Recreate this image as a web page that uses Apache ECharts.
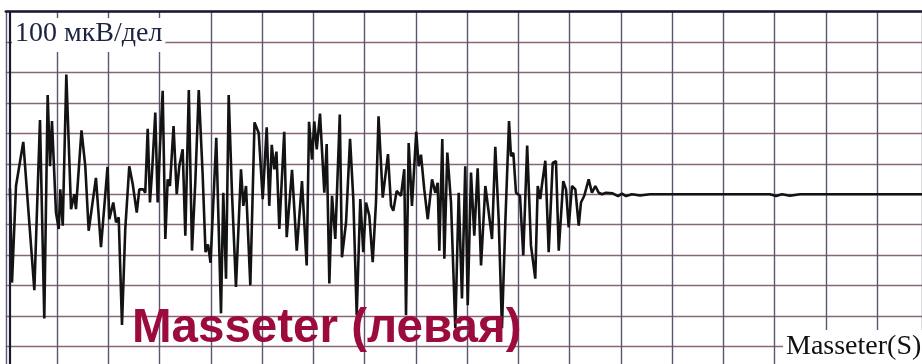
<!DOCTYPE html>
<html>
<head>
<meta charset="utf-8">
<script src="https://cdn.jsdelivr.net/npm/echarts@6/dist/echarts.min.js"></script>
<style>
  html, body { margin: 0; padding: 0; background: #ffffff; overflow: hidden; }
  /* the recording sheet runs a little past the bottom edge of the view */
  #chart { width: 922px; height: 377px; }
</style>
</head>
<body>
<div id="chart"></div>
<script>
// Surface EMG, left masseter. Time in ms (50 ms per grid division), amplitude in µV (100 µV per division).
const scaleLabel = '100 мкВ/дел';
const muscleTitle = 'Masseter (левая)';
const channelLabel = 'Masseter(S)';

const sampleTimes = [
  4.1, 6.1, 10.0, 17.1, 27.9, 33.4, 37.6, 40.9, 43.2, 45.1,
  49.0, 51.7, 53.2, 55.6, 59.1, 63.7, 66.9, 68.5, 73.9, 77.6,
  80.9, 88.0, 92.9, 99.3, 101.0, 104.9, 107.6, 110.2, 113.4, 116.6,
  120.5, 123.9, 127.8, 130.3, 134.2, 136.1, 138.5, 140.7, 142.7, 145.9,
  148.2, 150.5, 153.1, 155.7, 158.0, 160.2, 163.7, 166.8, 169.3, 172.6,
  175.2, 178.6, 181.7, 184.9, 188.3, 192.1, 194.9, 197.3, 199.8, 205.4,
  210.0, 212.2, 214.9, 217.5, 220.7, 224.6, 229.5, 231.8, 234.4, 238.6,
  242.7, 246.8, 250.7, 254.6, 257.1, 259.5, 262.0, 264.1, 266.9, 271.7,
  274.1, 279.3, 283.9, 289.0, 293.6, 295.9, 298.8, 301.0, 303.4, 306.6,
  309.2, 310.8, 313.1, 315.7, 318.3, 321.5, 325.9, 328.0, 332.0, 335.9,
  339.1, 342.4, 345.9, 348.8, 351.5, 354.7, 358.0, 361.2, 363.7, 367.8,
  372.9, 375.9, 378.1, 381.4, 385.6, 388.8, 390.5, 393.1, 396.3, 400.5,
  402.9, 405.1, 408.3, 411.7, 415.9, 419.1, 421.4, 423.0, 425.9, 427.9,
  430.8, 434.4, 438.6, 441.9, 445.1, 448.3, 450.7, 453.9, 457.1, 460.4,
  463.7, 467.9, 471.2, 474.4, 477.6, 480.9, 484.1, 487.4, 491.0, 492.9,
  495.2, 497.8, 501.7, 504.9, 508.7, 512.4, 516.6, 519.0, 521.5, 523.2,
  526.4, 529.7, 533.6, 536.8, 539.5, 543.9, 546.6, 549.2, 552.4, 555.7,
  559.0, 561.2, 564.4, 568.7, 571.9, 575.2, 578.5, 581.7, 585.6, 592.1,
  597.3, 601.2, 605.1, 611.0, 618.8, 628.5, 745.6, 751.5, 757.3, 765.1,
  774.9, 893.9
];

const sampleValues = [
  20, -290, 27, 172, -315, 244, -408, 326, 92, 240,
  -60, -114, 16, -103, 393, -49, 0, -49, 210, 92,
  -120, 54, -174, 90, -82, -27, -92, -76, -429, -114,
  92, 33, -60, 16, 16, 5, 215, -27, 71, 268,
  -27, 158, 340, -147, 49, 27, 224, 0, 92, 148,
  -136, 342, -185, 38, 342, 65, -190, -165, -225, 185,
  -391, 5, -277, 326, 5, -304, 82, -38, 27, -299,
  236, 201, -16, 220, -38, 162, 82, 140, -114, 205,
  -141, 80, -185, 43, -234, 238, 114, 239, 147, 265,
  103, 5, 165, -293, -5, -147, 262, -207, -92, 182,
  -16, -397, -16, -190, -27, -71, -223, -27, 256, -11,
  132, -38, -54, 11, -5, 82, -397, 168, -38, 205,
  92, 130, 16, -82, 49, 5, 38, -185, 181, -212,
  137, -27, -440, 5, -342, 92, -364, 71, -136, 85,
  -234, 27, -60, -147, 156, -82, -440, -92, 240, 125,
  136, 5, -5, -201, 160, -168, -277, 27, -16, 33,
  110, -190, 103, 109, -185, 43, 16, -109, 27, 16,
  -103, -27, -5, 49, 5, 27, 5, 0, 5, 3,
  -6, 2, -6, 0, -4, 0, 0, -6, 0, -5,
  0, 0
];

const timeStepMs = 50;
const ampStepUv = 100;

const trace = sampleTimes.map((t, i) => [t, sampleValues[i]]);

const chart = echarts.init(document.getElementById('chart'));
chart.setOption({
  animation: false,
  backgroundColor: '#ffffff',
  grid: { left: 5.75, right: 0, top: 11.5, bottom: 0 },
  xAxis: {
    type: 'value',
    min: 0,
    max: 893.9,
    interval: timeStepMs,
    position: 'top',
    axisLine: { show: true, onZero: false, lineStyle: { color: '#15192e', width: 2.5 } },
    axisTick: { show: false },
    axisLabel: { show: false },
    splitLine: { show: true, lineStyle: { color: '#5a5670', width: 1.4 } }
  },
  yAxis: {
    type: 'value',
    min: -600,
    max: 600,
    interval: ampStepUv,
    axisLine: { show: false },
    axisTick: { show: false },
    axisLabel: { show: false },
    splitLine: { show: true, lineStyle: { color: '#86677a', width: 1.3 } }
  },
  title: [
    {
      text: scaleLabel,
      left: 12,
      top: 18,
      padding: [2, 3, 4, 3],
      backgroundColor: '#ffffff',
      textStyle: { fontFamily: 'Liberation Serif', fontWeight: 'normal', fontSize: 28, color: '#1c2240' }
    },
    {
      text: muscleTitle,
      left: 132,
      top: 305,
      padding: 0,
      textStyle: { fontFamily: 'Liberation Sans', fontWeight: 'bold', fontSize: 47.5, color: '#9b0b3d' }
    },
    {
      text: channelLabel,
      left: 783,
      top: 330,
      padding: [3, 6, 20, 3],
      backgroundColor: '#ffffff',
      textStyle: { fontFamily: 'Liberation Serif', fontWeight: 'normal', fontSize: 28, color: '#111111' }
    }
  ],
  series: [
    {
      type: 'line',
      data: trace,
      showSymbol: false,
      smooth: false,
      lineStyle: { color: '#131313', width: 2.6 },
      z: 3,
      markLine: {
        silent: true,
        symbol: 'none',
        label: { show: false },
        lineStyle: { color: '#15192e', width: 2.2, type: 'solid' },
        data: [{ xAxis: 4.1 }]
      }
    }
  ]
});
</script>
</body>
</html>
